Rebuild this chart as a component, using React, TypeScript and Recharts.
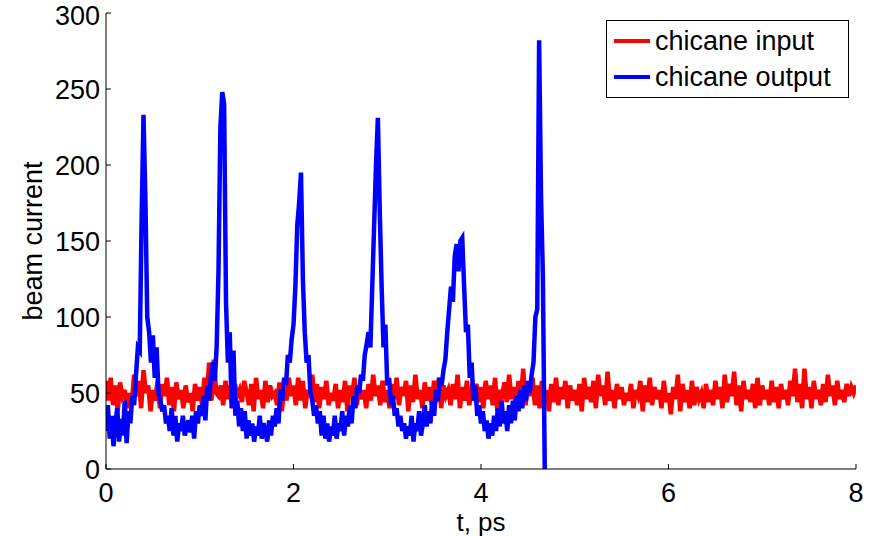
import React from 'react';
import { LineChart, Line, XAxis, YAxis, Legend, Label } from 'recharts';

const FONT = '"Liberation Sans", Arial, sans-serif';

// t axis
const xTicks = [0, 2, 4, 6, 8];
const yTicks = [0, 50, 100, 150, 200, 250, 300];

// chicane input, sampled every 0.025 ps from 0 to 8
const RED_STEP = 0.025;
const redValues = [
  58, 45, 60, 42, 55, 38, 57, 48, 52, 40, 50, 44, 62, 48, 58, 40, 65, 50, 55, 38,
  52, 45, 58, 40, 56, 48, 60, 42, 54, 38, 57, 46, 52, 40, 55, 44, 50, 38, 56, 45,
  54, 42, 60, 48, 70, 45, 72, 50, 48, 55, 42, 58, 46, 55, 40, 56, 48, 52, 44, 58,
  50, 42, 56, 38, 60, 46, 52, 40, 58, 44, 55, 48, 50, 42, 57, 38, 52, 45, 60, 48,
  55, 42, 60, 45, 58, 40, 52, 48, 62, 44, 56, 40, 54, 46, 58, 42, 50, 45, 56, 40,
  52, 44, 58, 38, 55, 48, 60, 42, 54, 46, 52, 40, 56, 45, 62, 48, 55, 42, 58, 44,
  52, 40, 56, 46, 60, 42, 54, 48, 58, 38, 55, 44, 62, 46, 52, 40, 57, 45, 54, 42,
  58, 44, 60, 40, 55, 48, 52, 42, 56, 46, 62, 40, 54, 45, 58, 42, 52, 48, 56, 44,
  54, 40, 58, 46, 55, 42, 60, 38, 52, 48, 57, 44, 62, 46, 54, 40, 58, 45, 66, 42,
  56, 48, 60, 42, 55, 40, 58, 46, 52, 38, 56, 44, 60, 42, 54, 46, 58, 40, 55, 45,
  52, 42, 56, 38, 60, 46, 54, 44, 58, 40, 62, 48, 55, 42, 64, 45, 52, 40, 56, 46,
  54, 42, 50, 45, 56, 40, 52, 48, 58, 38, 55, 44, 60, 42, 54, 46, 52, 40, 58, 44,
  50, 36, 54, 46, 62, 38, 56, 44, 52, 40, 58, 42, 54, 46, 50, 40, 56, 44, 52, 42,
  58, 46, 54, 40, 62, 44, 56, 48, 64, 42, 55, 38, 58, 46, 52, 44, 56, 40, 60, 42,
  55, 46, 52, 42, 58, 44, 54, 40, 56, 46, 52, 42, 58, 48, 66, 44, 56, 40, 66, 46,
  54, 40, 58, 46, 52, 42, 56, 44, 62, 48, 55, 42, 58, 46, 52, 44, 56, 48, 54, 50,
  55,
];

// chicane output, sampled every 0.02 ps from 0 to 4.68
const BLUE_STEP = 0.02;
const blueValues = [
  25, 42, 20, 35, 15, 30, 40, 18, 33, 22,
  45, 17, 38, 30, 48, 42, 62, 80, 78, 165,
  233, 178, 100, 90, 70, 88, 60, 80, 50, 45,
  38, 42, 30, 35, 25, 40, 22, 35, 18, 30,
  25, 35, 22, 28, 32, 24, 35, 20, 38, 30,
  42, 35, 48, 32, 55, 45, 62, 70, 58, 80,
  130, 225, 248, 240, 110, 70, 90, 40, 78, 35,
  45, 28, 40, 25, 38, 20, 32, 22, 30, 18,
  28, 22, 35, 20, 30, 25, 18, 32, 22, 35,
  28, 40, 30, 52, 45, 60, 55, 75, 70, 85,
  95, 120, 160, 175, 195, 125, 90, 70, 75, 50,
  45, 35, 42, 30, 38, 22, 35, 20, 30, 18,
  28, 22, 35, 20, 30, 25, 38, 22, 35, 28,
  42, 30, 48, 40, 55, 50, 62, 58, 75, 82,
  90, 80, 120, 160, 200, 231, 170, 120, 80, 95,
  55, 60, 42, 48, 35, 40, 28, 35, 25, 30,
  20, 28, 22, 35, 18, 30, 25, 38, 22, 30,
  42, 28, 38, 30, 45, 35, 52, 45, 60, 55,
  65, 72, 90, 105, 120, 110, 140, 148, 130, 150,
  152, 120, 90, 95, 60, 70, 45, 55, 35, 42,
  30, 38, 25, 32, 20, 30, 22, 35, 25, 40,
  28, 45, 30, 38, 25, 42, 30, 45, 32, 48,
  38, 52, 40, 55, 45, 58, 50, 62, 70, 100,
  105, 282, 180, 127, 0,
];

const redData = redValues.map((v, i) => ({ t: +(i * RED_STEP).toFixed(3), v }));
const blueData = blueValues.map((v, i) => ({ t: +(i * BLUE_STEP).toFixed(3), v }));

const seriesInfo = [
  { name: 'chicane input', color: '#ff0000' },
  { name: 'chicane output', color: '#0000ff' },
];

const tickStyle = { fontSize: 27, fill: '#000', fontFamily: FONT };

const MatlabLegend = () => (
  <div
    style={{
      border: '1px solid #000',
      background: '#fff',
      width: 241,
      height: 74,
      boxSizing: 'content-box',
      fontFamily: FONT,
      fontSize: 27,
      color: '#000',
      paddingTop: 2,
    }}
  >
    {seriesInfo.map((s) => (
      <div key={s.name} style={{ display: 'flex', alignItems: 'center', height: 36, lineHeight: '36px' }}>
        <span style={{ display: 'inline-block', width: 36, height: 4, background: s.color, marginLeft: 7, marginRight: 5 }} />
        <span>{s.name}</span>
      </div>
    ))}
  </div>
);

export default function App() {
  return (
    <div style={{ position: 'absolute', left: 0, top: 0, width: 869, height: 536, background: '#fff' }}>
      <LineChart width={869} height={536} margin={{ top: 13, right: 13, left: 0, bottom: 0 }}>
        <XAxis
          xAxisId="b"
          type="number"
          dataKey="t"
          domain={[0, 8]}
          ticks={xTicks}
          allowDataOverflow
          height={67}
          tickSize={-5}
          tickMargin={19}
          tick={tickStyle}
          axisLine={{ stroke: '#000', strokeWidth: 1 }}
          tickLine={{ stroke: '#000' }}
        >
          <Label value="t, ps" position="insideBottom" offset={5} style={{ fontSize: 26, fill: '#000', fontFamily: FONT }} />
        </XAxis>
        <XAxis
          xAxisId="top"
          orientation="top"
          type="number"
          dataKey="t"
          domain={[0, 8]}
          ticks={xTicks}
          height={0}
          tickSize={-5}
          tick={false}
          axisLine={{ stroke: '#000', strokeWidth: 1 }}
          tickLine={{ stroke: '#000' }}
        />
        <YAxis
          yAxisId="l"
          type="number"
          domain={[0, 300]}
          ticks={yTicks}
          allowDataOverflow
          width={106}
          tickSize={-5}
          tickMargin={11}
          tick={tickStyle}
          axisLine={{ stroke: '#000', strokeWidth: 1 }}
          tickLine={{ stroke: '#000' }}
        >
          <Label
            value="beam current"
            angle={-90}
            position="insideLeft"
            offset={32}
            style={{ fontSize: 27, fill: '#000', fontFamily: FONT, textAnchor: 'middle' }}
          />
        </YAxis>
        <YAxis
          yAxisId="r"
          orientation="right"
          type="number"
          domain={[0, 300]}
          ticks={yTicks}
          width={0}
          tickSize={-5}
          tick={false}
          axisLine={{ stroke: '#000', strokeWidth: 1 }}
          tickLine={{ stroke: '#000' }}
        />
        <Legend
          layout="horizontal"
          align="center"
          verticalAlign="middle"
          content={<MatlabLegend />}
          wrapperStyle={{ left: 606, top: 20, width: 243, height: 76 }}
        />
        <Line
          xAxisId="b"
          yAxisId="l"
          data={redData}
          dataKey="v"
          name={seriesInfo[0].name}
          stroke={seriesInfo[0].color}
          strokeWidth={4.5}
          dot={false}
          activeDot={false}
          isAnimationActive={false}
        />
        <Line
          xAxisId="b"
          yAxisId="l"
          data={blueData}
          dataKey="v"
          name={seriesInfo[1].name}
          stroke={seriesInfo[1].color}
          strokeWidth={4.5}
          dot={false}
          activeDot={false}
          isAnimationActive={false}
        />
      </LineChart>
    </div>
  );
}
